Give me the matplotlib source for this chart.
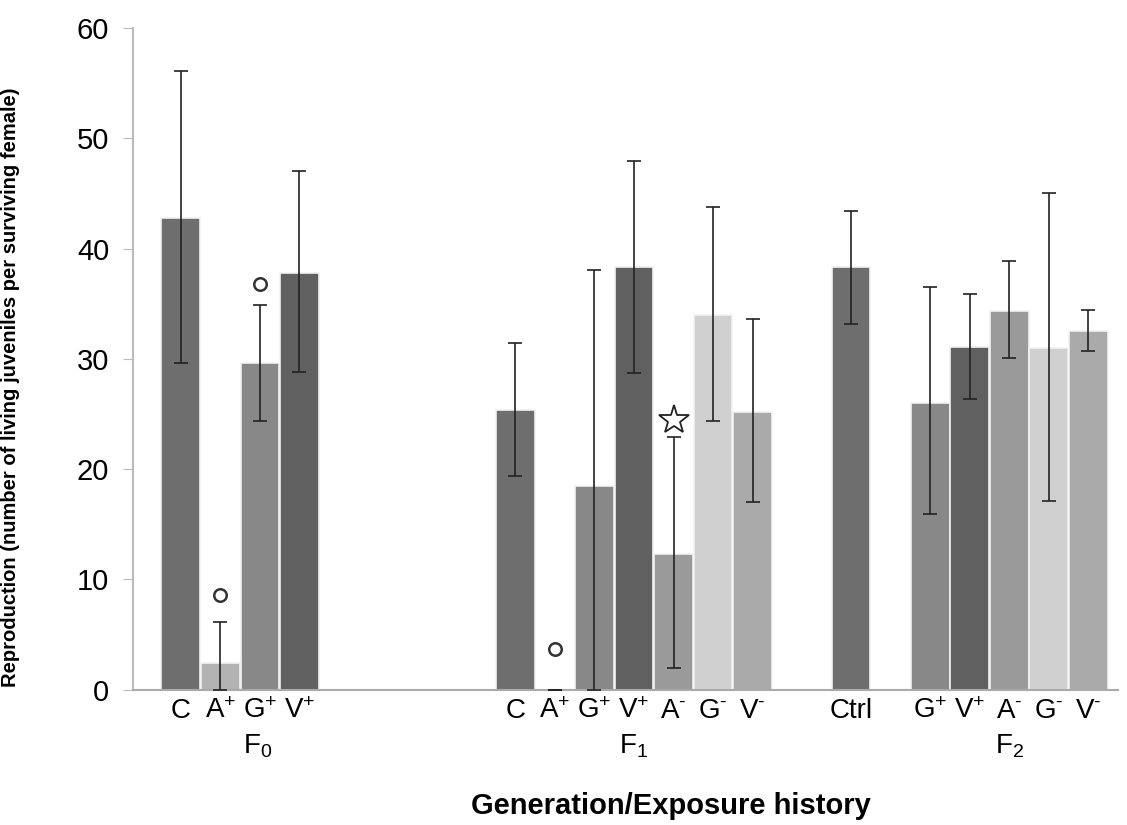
import numpy as np
import matplotlib.pyplot as plt

plt.rcParams['font.family'] = ['Liberation Sans', 'DejaVu Sans']
plt.rcParams['mathtext.fontset'] = 'custom'
plt.rcParams['mathtext.rm'] = 'Liberation Sans'
plt.rcParams['mathtext.it'] = 'Liberation Sans'

# bar data, grouped F0 / F1 / Ctrl / F2
labels = ['C', 'A$^{+}$', 'G$^{+}$', 'V$^{+}$',
          'C', 'A$^{+}$', 'G$^{+}$', 'V$^{+}$', 'A$^{\u2010}$', 'G$^{\u2010}$', 'V$^{\u2010}$',
          'Ctrl',
          'G$^{+}$', 'V$^{+}$', 'A$^{\u2010}$', 'G$^{\u2010}$', 'V$^{\u2010}$']
treat = ['C', 'A+', 'G+', 'V+',
         'C', 'A+', 'G+', 'V+', 'A-', 'G-', 'V-',
         'C',
         'G+', 'V+', 'A-', 'G-', 'V-']
means = [42.8, 2.4, 29.6, 37.8,
         25.4, 0.0, 18.5, 38.3, 12.3, 34.0, 25.2,
         38.3,
         26.0, 31.1, 34.3, 31.0, 32.5]
err_hi = [56.1, 6.1, 34.9, 47.0,
          31.4, 0.0, 38.1, 47.9, 22.9, 43.8, 33.6,
          43.4,
          36.5, 35.9, 38.9, 45.0, 34.4]
err_lo = [29.6, 0.0, 24.4, 28.8,
          19.4, 0.0, 0.0, 28.7, 2.0, 24.4, 17.0,
          33.2,
          15.9, 26.4, 30.1, 17.1, 30.7]
gen_labels = ['F$_0$', 'F$_1$', 'F$_2$']

# markers: (bar index, y value)
circles = [(1, 8.6), (2, 36.8), (5, 3.7)]
stars = [(8, 24.5)]

colors = {'C': '#6e6e6e', 'A+': '#b3b3b3', 'G+': '#888888', 'V+': '#606060',
          'A-': '#9a9a9a', 'G-': '#d0d0d0', 'V-': '#aaaaaa'}

x = np.array([0, 1, 2, 3,
              8.46, 9.46, 10.46, 11.46, 12.46, 13.46, 14.46,
              16.95,
              18.95, 19.95, 20.95, 21.95, 22.95])
gen_x = [1.95, 11.46, 20.95]

fig = plt.figure(figsize=(11.27, 8.25), dpi=100)
ax = fig.add_axes([0.118, 0.164, 0.874, 0.802])

means = np.array(means)
yerr = np.array([means - np.array(err_lo), np.array(err_hi) - means])
ax.bar(x, means, width=0.98, color=[colors[t] for t in treat],
       edgecolor='#f2f2f2', linewidth=1.2, zorder=2)
ax.errorbar(x, means, yerr=yerr, fmt='none', ecolor='#222222',
            elinewidth=1.2, capsize=5, capthick=1.2, zorder=3)

for i, yv in circles:
    ax.plot(x[i], yv, 'o', ms=9, mfc='white', mec='#333333', mew=1.8, zorder=4)
for i, yv in stars:
    ax.plot(x[i], yv, '*', ms=22, mfc='white', mec='#222222', mew=1.3, zorder=4)

ax.set_xlim(-1.21, 23.7)
ax.set_ylim(0, 60)
ax.set_yticks(range(0, 61, 10))
ax.tick_params(axis='y', labelsize=21, length=7, color='#bbbbbb', pad=10)
ax.set_xticks(x)
ax.set_xticklabels(labels, fontsize=20)
ax.tick_params(axis='x', length=0, pad=6)

for gx, gl in zip(gen_x, gen_labels):
    ax.text(gx, -5.1, gl, ha='center', va='center', fontsize=20)

for s in ['top', 'right']:
    ax.spines[s].set_visible(False)
ax.spines['left'].set_color('#bbbbbb')
ax.spines['bottom'].set_color('#aaaaaa')
ax.spines['left'].set_linewidth(1.5)
ax.spines['bottom'].set_linewidth(1.5)

ax.set_ylabel('Reproduction (number of living juveniles per surviving female)',
              fontsize=14.5, fontweight='bold')
ax.yaxis.set_label_coords(-0.115, 0.457)
ax.set_xlabel('Generation/Exposure history', fontsize=21, fontweight='bold')
ax.xaxis.set_label_coords(0.546, -0.155)

fig.savefig('out.png', dpi=100)
